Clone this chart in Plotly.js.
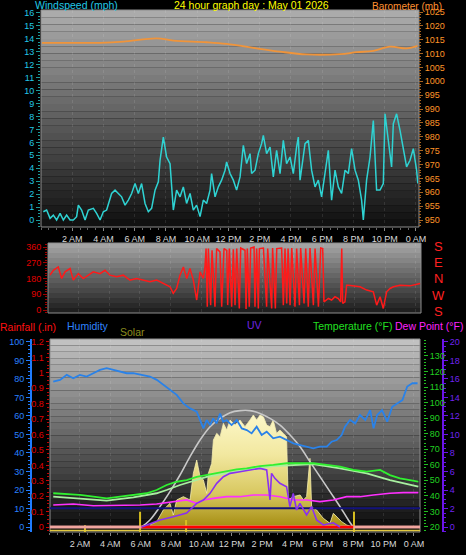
<!DOCTYPE html>
<html><head><meta charset="utf-8">
<script src="https://cdn.plot.ly/plotly-3.0.1.min.js"></script>
<style>html,body{margin:0;padding:0;background:#000;}#chart{width:466px;height:555px;}</style>
</head><body><div id="chart"></div>
<script>
// ---------- DATA (hours since midnight) ----------
const tickHours = [2,4,6,8,10,12,14,16,18,20,22,24];
const tickText = ['2 AM','4 AM','6 AM','8 AM','10 AM','12 PM','2 PM','4 PM','6 PM','8 PM','10 PM','0 AM'];

const windH = [0.15,0.36,0.58,0.79,1.0,1.22,1.43,1.64,1.86,2.07,2.28,2.39,2.60,2.82,3.03,3.35,3.56,3.78,3.99,4.20,4.52,4.74,4.95,5.16,5.38,5.59,5.80,6.02,6.23,6.44,6.66,6.87,7.08,7.30,7.51,7.62,7.83,8.04,8.26,8.47,8.68,8.90,9.11,9.32,9.54,9.75,9.96,10.18,10.39,10.60,10.82,10.92,11.14,11.35,11.56,11.78,11.88,12.10,12.31,12.52,12.74,12.95,13.16,13.38,13.48,13.70,13.91,14.12,14.23,14.44,14.66,14.87,15.08,15.30,15.51,15.72,15.94,16.15,16.36,16.47,16.58,16.79,16.90,17.11,17.32,17.54,17.75,17.96,18.18,18.39,18.60,18.82,19.03,19.24,19.46,19.67,19.88,20.10,20.31,20.52,20.63,20.84,21.06,21.27,21.48,21.70,21.91,22.02,22.23,22.44,22.55,22.76,22.98,23.19,23.40,23.62,23.83,24.04,24.12];
const windMph = [0.64,0.77,0.13,0.38,0,0.51,0,0.38,0,0,0.26,1.15,0.77,0,0.77,0.90,0.51,0,0.64,0.77,2.05,2.31,2.05,1.79,1.15,1.54,2.05,2.82,2.05,2.82,1.28,0.64,0.90,2.31,2.95,4.62,6.41,4.87,4.36,0.77,2.31,1.79,2.56,1.28,2.05,0.77,1.15,0.26,1.54,1.28,2.31,3.59,1.79,2.56,3.08,3.85,4.49,3.59,3.08,2.31,3.33,5.77,4.36,5.13,3.59,3.85,5.13,5.90,6.54,5.13,5.64,3.33,5.38,3.59,6.15,4.36,4.87,3.59,5.64,6.41,3.08,4.87,5.90,6.15,3.85,2.56,3.08,1.79,3.59,5.38,1.54,3.85,2.56,2.05,3.85,3.59,5.51,3.85,3.08,1.54,0,3.08,4.87,7.69,2.31,2.31,2.82,8.21,6.15,4.10,7.44,8.21,6.92,5.38,4.10,4.62,5.51,3.85,2.82];

const baroH = [0.06,3.78,5.27,7.40,8.47,10.60,11.88,13.80,15.30,17.0,19.14,20.2,21.27,22.34,23.40,24.10];
const baroMb = [1013.9,1013.9,1014.3,1015.5,1014.7,1014.1,1013.5,1011.9,1010.7,1009.7,1009.8,1010.5,1011.0,1012.5,1011.9,1012.8];

const dirH = [0.13,0.35,0.67,0.89,1.11,1.44,1.65,1.98,2.3,2.63,2.95,3.39,3.72,4.04,4.48,4.91,5.35,5.79,6.22,6.65,7.09,7.52,7.96,8.17,8.39,8.61,8.83,9.05,9.26,9.48,9.70,9.92,10.13,10.24,
 10.31,10.39,10.46,10.61,10.70,10.89,11.00,11.22,11.33,11.48,11.66,11.72,11.83,11.98,12.09,12.20,12.31,12.48,12.57,12.85,12.92,13.00,13.13,13.22,13.44,13.50,13.61,13.72,13.79,14.05,14.26,14.33,14.59,14.65,14.83,14.92,15.24,15.35,15.46,15.57,15.66,15.79,15.90,16.11,16.22,16.40,16.48,16.70,16.81,16.98,17.09,17.31,17.42,17.64,17.79,17.92,18.00,18.29,18.50,18.72,18.94,19.09,19.16,19.22,19.37,19.48,
 19.59,20.35,20.79,21.22,21.44,21.66,21.87,22.09,22.31,22.53,22.96,23.61,24.27];
const dirDeg = [199,227,246,180,218,237,171,208,180,199,218,208,227,199,190,199,171,180,171,161,171,152,133,95,123,199,246,180,237,171,57,218,180,246,
 351,19,351,28,341,19,351,332,19,351,341,28,351,19,347,28,351,9,354,341,6,351,19,354,360,19,351,9,351,354,19,351,9,354,9,351,354,28,351,38,351,28,354,19,351,28,354,38,351,19,354,28,351,19,354,351,47,66,57,76,66,47,351,38,47,142,
 142,133,114,104,28,76,9,104,123,133,142,138,152];

const humH = [0.24,0.69,1.13,1.56,2.0,2.44,2.88,3.32,3.76,4.2,4.64,5.08,5.51,5.96,6.61,7.06,7.49,7.93,8.37,8.81,9.25,9.69,9.91,10.13,10.35,10.57,10.78,11.0,11.23,11.44,11.66,11.99,12.33,12.66,12.99,13.31,13.64,13.97,14.3,14.73,15.17,15.61,16.06,16.5,16.94,17.37,17.81,18.26,18.58,18.91,19.24,19.46,19.79,20.13,20.45,20.8,21.12,21.34,21.58,21.9,22.24,22.57,22.9,23.24,23.56,23.9,24.24];
const humPct = [78.6,79.5,82.2,80.4,82.2,81.3,83.1,84.9,85.8,84.9,84.0,83.1,83.1,82.2,81.3,79.5,76.8,74.1,71.4,66.8,64.1,62.3,57.8,53.3,57.8,55.1,58.7,56.0,61.3,56.9,57.8,55.1,57.8,53.3,52.4,50.6,54.2,49.7,51.5,47.9,48.8,47.0,45.2,44.3,43.4,42.5,43.4,43.4,46.1,47.0,49.7,54.2,57.8,56.0,60.5,57.8,63.2,53.3,60.5,63.2,56.9,65.0,66.8,68.6,75.9,77.7,77.7];

const tempH = [0.24,1.12,2.0,2.88,3.76,4.64,5.52,6.39,7.05,7.71,8.37,9.03,9.69,10.35,11.01,11.66,12.32,12.98,13.86,14.74,15.62,16.5,17.37,18.25,19.13,20.01,20.89,21.77,22.42,23.08,23.74,24.29];
const tempF = [41.7,41.2,40.6,39.5,38.4,39.5,40.6,41.7,43.8,47.0,49.1,50.2,52.3,53.4,54.5,55.6,57.1,57.7,59.2,59.9,61.0,61.0,61.0,59.9,58.8,56.7,55.6,56.7,53.4,51.3,50.2,49.1];

const feelH = [0.24,2.0,3.76,5.52,7.05,7.71,8.59,10.35,12.54,14.74,17.37,19.13,20.89,22.42,23.52,24.29];
const feelF = [39.5,38.4,36.9,39.1,41.7,43.8,47.0,52.3,56.2,59.2,60.5,57.7,54.5,50.2,47.7,45.9];

const dewH = [0.24,1.56,2.88,4.2,5.96,7.05,8.15,9.03,9.69,10.13,10.79,11.66,12.54,13.42,14.3,15.18,16.06,16.93,17.81,18.69,19.57,20.45,21.33,22.42,23.3,24.29];
const dewF = [34.1,34.8,33.7,33.9,34.1,34.8,36.3,37.4,35.2,37.4,38.4,39.5,39.5,40.6,40.6,39.5,37.4,37.4,36.3,37.4,39.5,39.5,40.6,41.7,42.1,42.1];

const uvH = [6.06,7.27,8.15,9.03,9.69,10.13,10.57,11.01,11.45,11.89,12.54,13.2,13.86,14.3,14.52,14.62,14.84,15.17,15.61,15.83,16.05,16.27,16.49,16.93,17.26,17.59,18.03,18.69,18.91,19.13];
const uvIdx = [0,0.76,1.1,1.5,2.56,2.92,3.64,4.72,5.44,5.8,5.98,6.16,6.34,6.16,2.92,5.8,5.26,4.72,4.36,2.2,3.64,1.84,2.56,1.3,2.2,0.76,0.22,0.46,0.22,0];

const solarH = [6.61,7.06,7.49,7.93,8.15,8.37,8.81,9.25,9.47,9.69,9.91,10.13,10.35,10.46,10.68,10.79,11.01,11.23,11.45,11.67,11.89,12.22,12.54,12.87,13.2,13.42,13.64,13.86,14.08,14.3,14.52,14.73,14.95,15.17,15.39,15.61,15.72,16.05,16.5,16.72,16.93,17.15,17.26,17.59,18.03,18.47,18.69,18.91,19.24,19.57,19.9];
const solarW = [11,29,92,128,65,146,164,146,290,362,272,254,182,290,344,470,506,488,560,524,578,551,578,542,578,605,578,605,596,551,542,578,506,524,506,488,146,164,173,146,164,371,110,92,47,20,74,56,29,11,0];

const solarMaxH = [6.06,6.61,7.27,7.93,8.59,9.25,9.91,10.57,11.23,11.89,12.54,13.2,13.86,14.52,15.18,15.84,16.5,17.15,17.81,18.47,19.13,19.68,20.0];
const solarMaxW = [0,38,110,191,281,380,470,542,587,618,629,629,614,587,551,497,434,353,272,191,110,38,0];

const rainH = [0, 24.4];
const rainIn = [0, 0];
const sunH = [6.06, 20.0];       // daylight segment on the rain baseline
const markH = [2.33, 5.96, 8.99, 20.05];
const markTop = [10, 83, 38, 83];
const freezeF = 32;

// ---------- helpers ----------
const W = 466, H = 555;
const px = v => v / W;
const py = v => 1 - v / H;
const FONT = 'Liberation Sans, Arial, sans-serif';

const solarRange = [-27, 1016];
const markX = [], markY = [];
markH.forEach((h, i) => { markX.push(h, h, null); markY.push(solarRange[0], markTop[i], null); });

const traces = [
  {x: windH, y: windMph, xaxis: 'x', yaxis: 'y', mode: 'lines', line: {color: '#2fd3d3', width: 1.5}},
  {x: baroH, y: baroMb, xaxis: 'x', yaxis: 'y2', mode: 'lines', line: {color: '#f0943a', width: 1.8, shape: 'spline'}},
  {x: dirH, y: dirDeg, xaxis: 'x2', yaxis: 'y3', mode: 'lines', line: {color: '#ff1a1a', width: 1.5}},
  // bottom panel
  {x: solarH, y: solarW, xaxis: 'x3', yaxis: 'y4', mode: 'lines', fill: 'tozeroy',
   fillgradient: {type: 'vertical', colorscale: [[0, '#a48c10'], [0.3, '#d8c860'], [0.65, '#f2e8a0'], [1, '#fcf7c8']]},
   line: {color: '#f6efb0', width: 0.8}},
  {x: solarMaxH, y: solarMaxW, xaxis: 'x3', yaxis: 'y4', mode: 'lines', line: {color: '#c8c8c8', width: 1.6, shape: 'spline'}},
  {x: markX, y: markY, xaxis: 'x3', yaxis: 'y4', mode: 'lines', line: {color: '#d8c020', width: 2}},
  {x: humH, y: humPct, xaxis: 'x3', yaxis: 'y5', mode: 'lines', line: {color: '#2a82e8', width: 1.8}},
  {x: rainH, y: rainIn, xaxis: 'x3', yaxis: 'y6', mode: 'lines', line: {color: '#f2a6a0', width: 3}},
  {x: sunH, y: [0, 0], xaxis: 'x3', yaxis: 'y6', mode: 'lines', line: {color: '#ff0000', width: 2.5}},
  {x: [0, 24.4], y: [freezeF, freezeF], xaxis: 'x3', yaxis: 'y7', mode: 'lines', line: {color: '#12127a', width: 2}},
  {x: feelH, y: feelF, xaxis: 'x3', yaxis: 'y7', mode: 'lines', line: {color: '#a8f0a0', width: 1.8}},
  {x: tempH, y: tempF, xaxis: 'x3', yaxis: 'y7', mode: 'lines', line: {color: '#30f030', width: 1.8}},
  {x: dewH, y: dewF, xaxis: 'x3', yaxis: 'y7', mode: 'lines', line: {color: '#ff30ff', width: 1.6}},
  {x: uvH, y: uvIdx, xaxis: 'x3', yaxis: 'y8', mode: 'lines', line: {color: '#8a30f0', width: 1.6}}
];

// background gradients (decoration)
const shapes = [];
function bands(x0, x1, y0, y1, cTop, cBot, n) {
  for (let i = 0; i < n; i++) {
    const a = y0 + (y1 - y0) * i / n, b = y0 + (y1 - y0) * (i + 1) / n;
    const c = Math.round(cTop + (cBot - cTop) * (i + 0.5) / n);
    shapes.push({type: 'rect', xref: 'paper', yref: 'paper', x0: px(x0), x1: px(x1), y0: py(b), y1: py(a),
      fillcolor: `rgb(${c},${c},${c})`, line: {width: 0}, layer: 'below'});
  }
  shapes.push({type: 'rect', xref: 'paper', yref: 'paper', x0: px(x0), x1: px(x1), y0: py(y1), y1: py(y0),
    line: {color: '#8e8e8e', width: 1}, layer: 'below'});
}
bands(41, 419, 10, 227, 174, 14, 30);
bands(48, 421, 243, 313, 168, 26, 14);
bands(50, 420, 339, 532, 196, 8, 30);
shapes.push({type: 'line', xref: 'paper', yref: 'paper', x0: px(50), x1: px(420), y0: py(530.5), y1: py(530.5),
  line: {color: '#e0c840', width: 1.5}});

const grid = 'rgba(255,255,255,0.10)';
function ann(text, x, y, color, xanchor, size, yanchor) {
  return {text, x: px(x), y: py(y), xref: 'paper', yref: 'paper', xanchor: xanchor || 'left', yanchor: yanchor || 'middle',
    showarrow: false, borderpad: 0, font: {family: FONT, size: size || 10.5, color}};
}
const annotations = [
  ann('Windspeed (mph)', 34, 5, '#22c8e6'),
  ann('24 hour graph day : May 01 2026', 251, 5, '#ffff00', 'center'),
  ann('Barometer (mb)', 443, -0.5, '#ff9030', 'right', 10, 'top'),
  ann('Rainfall (.in)', -1, 327, '#ff1010'),
  ann('Humidity', 66, 326, '#2f84ff'),
  ann('Solar', 119, 332, '#8c8c1e'),
  ann('UV', 246, 325, '#7024e0'),
  ann('Temperature (°F)', 312, 326, '#22e022'),
  ann('Dew Point (°F)', 394, 326, '#ff22ff'),
  ann('S', 438, 246, '#ff2020', 'center', 13),
  ann('E', 438, 262, '#ff2020', 'center', 13),
  ann('N', 438, 278, '#ff2020', 'center', 13),
  ann('W', 438, 295, '#ff2020', 'center', 13),
  ann('S', 438, 311, '#ff2020', 'center', 13)
];

const tf = c => ({family: FONT, size: 9, color: c});
const seq = (a, b, s) => { const r = []; for (let v = a; v <= b + 1e-9; v += s) r.push(+v.toFixed(2)); return r; };

const layout = {
  width: W, height: H, margin: {l: 0, r: 0, t: 0, b: 0},
  paper_bgcolor: '#000', plot_bgcolor: 'rgba(0,0,0,0)', showlegend: false,
  font: {family: FONT, size: 9, color: '#ccc'},
  shapes, annotations,
  xaxis: {domain: [px(41), px(418)], range: [0, 24.13], anchor: 'y', tickmode: 'array', tickvals: tickHours, ticktext: tickText,
    ticks: 'outside', ticklen: 3, tickcolor: '#888', minor: {dtick: 0.5, ticklen: 2, tickcolor: '#666', ticks: 'outside'},
    tickfont: tf('#d8d8d8'), showgrid: true, gridcolor: grid, griddash: 'dot', zeroline: false, showline: false},
  yaxis: {domain: [py(227), py(10)], range: [-0.54, 16.23], anchor: 'x', tickmode: 'array', tickvals: seq(0, 16, 1),
    ticks: 'outside', ticklen: 4, tickcolor: '#1a9a9a', minor: {dtick: 0.25, ticklen: 2, tickcolor: '#1a9a9a', ticks: 'outside'},
    tickfont: tf('#22c8e6'), showgrid: false, zeroline: false, showline: false},
  yaxis2: {overlaying: 'y', side: 'right', anchor: 'x', range: [947.48, 1025.72], tickmode: 'array', tickvals: seq(950, 1025, 5),
    ticks: 'outside', ticklen: 4, tickcolor: '#a86420', minor: {dtick: 1, ticklen: 2, tickcolor: '#a86420', ticks: 'outside'},
    tickfont: tf('#ff9428'), showgrid: false, zeroline: false},
  xaxis2: {domain: [px(48), px(421)], range: [0, 24.33], anchor: 'y3', tickmode: 'array', tickvals: tickHours,
    showticklabels: false, ticks: '', showgrid: true, gridcolor: grid, griddash: 'dot', zeroline: false},
  yaxis3: {domain: [py(313), py(243)], range: [-17.1, 382.9], anchor: 'x2', tickmode: 'array', tickvals: [0, 90, 180, 270, 360],
    ticks: 'outside', ticklen: 4, tickcolor: '#a00000', minor: {dtick: 15, ticklen: 2, tickcolor: '#a00000', ticks: 'outside'},
    tickfont: tf('#e00000'), showgrid: false, zeroline: false},
  xaxis3: {domain: [px(49.6), px(420)], range: [0, 24.4], anchor: 'y4', tickmode: 'array', tickvals: tickHours, ticktext: tickText,
    ticks: 'outside', ticklen: 3, tickcolor: '#888', minor: {dtick: 0.5, ticklen: 2, tickcolor: '#666', ticks: 'outside'},
    tickfont: tf('#d8d8d8'), showgrid: true, gridcolor: grid, griddash: 'dot', zeroline: false},
  yaxis4: {domain: [py(532), py(339)], range: solarRange, anchor: 'x3', visible: false, showgrid: false, zeroline: false},
  yaxis5: {overlaying: 'y4', anchor: 'free', position: px(31), side: 'left', range: [-2.7, 101.6], tickmode: 'array', tickvals: seq(0, 100, 10),
    showline: true, linecolor: '#1f7cff', linewidth: 2, ticks: 'outside', ticklen: 4, tickcolor: '#1f7cff',
    minor: {dtick: 2, ticklen: 2, tickcolor: '#1f7cff', ticks: 'outside'}, tickfont: tf('#2a82ff'), showgrid: false, zeroline: false},
  yaxis6: {overlaying: 'y4', anchor: 'x3', side: 'left', range: [-0.032, 1.219], tickmode: 'array', tickvals: seq(0, 1.2, 0.1),
    ticktext: ['0','0.1','0.2','0.3','0.4','0.5','0.6','0.7','0.8','0.9','1','1.1','1.2'],
    ticks: 'outside', ticklen: 3, tickcolor: '#d00000', minor: {dtick: 0.025, ticklen: 2, tickcolor: '#c00000', ticks: 'outside'},
    tickfont: tf('#e00000'), showgrid: false, zeroline: false},
  yaxis7: {overlaying: 'y4', anchor: 'free', position: px(423), side: 'right', range: [16.78, 140.9], tickmode: 'array', tickvals: seq(20, 130, 10),
    ticks: 'outside', ticklen: 4, tickcolor: '#20c020', minor: {dtick: 2, ticklen: 2, tickcolor: '#20c020', ticks: 'outside'},
    tickfont: tf('#22d022'), showgrid: false, zeroline: false},
  yaxis8: {overlaying: 'y4', anchor: 'free', position: px(443), side: 'right', range: [-0.54, 20.32], tickmode: 'array', tickvals: seq(0, 20, 2),
    showline: true, linecolor: '#6a14e8', linewidth: 2, ticks: 'outside', ticklen: 4, tickcolor: '#6a14e8',
    minor: {dtick: 0.5, ticklen: 2, tickcolor: '#6a14e8', ticks: 'outside'}, tickfont: tf('#7024f0'), showgrid: false, zeroline: false}
};

Plotly.newPlot('chart', traces, layout, {staticPlot: true, displayModeBar: false});
</script>
</body></html>
